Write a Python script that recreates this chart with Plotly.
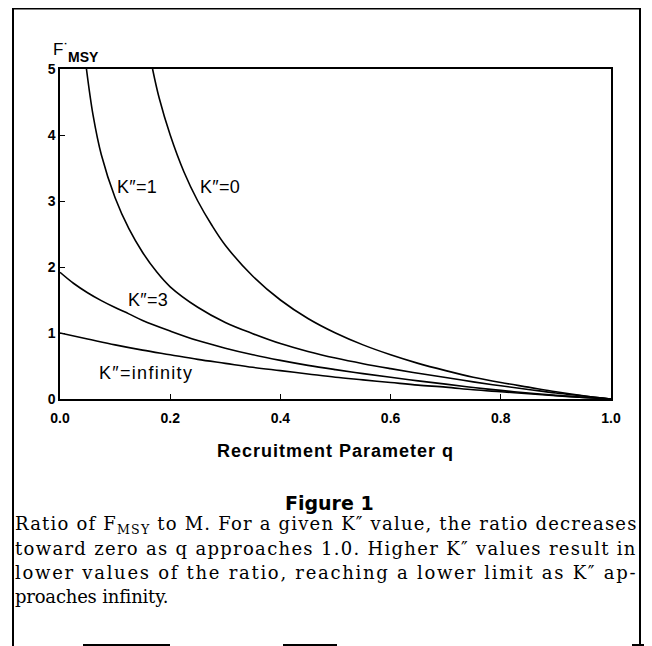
import plotly.graph_objects as go

# ---- data ----
q_k0 = [0.168, 0.18, 0.2, 0.225, 0.25, 0.275, 0.3, 0.35, 0.4, 0.45, 0.5, 0.55, 0.6, 0.65, 0.7, 0.75, 0.8, 0.85, 0.9, 0.95, 1.0]
f_k0 = [5.0, 4.56, 4.0, 3.44, 3.0, 2.64, 2.33, 1.86, 1.5, 1.22, 1.0, 0.82, 0.67, 0.54, 0.43, 0.33, 0.25, 0.18, 0.11, 0.05, 0.0]

q_k1 = [0.048, 0.06, 0.075, 0.1, 0.125, 0.15, 0.175, 0.2, 0.25, 0.3, 0.35, 0.4, 0.45, 0.5, 0.55, 0.6, 0.65, 0.7, 0.75, 0.8, 0.85, 0.9, 0.95, 1.0]
f_k1 = [5.0, 4.3, 3.7, 3.05, 2.58, 2.22, 1.93, 1.70, 1.39, 1.16, 0.99, 0.84, 0.72, 0.62, 0.535, 0.46, 0.39, 0.325, 0.26, 0.20, 0.145, 0.09, 0.045, 0.0]

q_k3 = [0.0, 0.025, 0.05, 0.075, 0.1, 0.125, 0.15, 0.2, 0.25, 0.3, 0.35, 0.4, 0.45, 0.5, 0.55, 0.6, 0.65, 0.7, 0.75, 0.8, 0.85, 0.9, 0.95, 1.0]
f_k3 = [1.92, 1.75, 1.61, 1.49, 1.385, 1.29, 1.19, 1.03, 0.885, 0.77, 0.67, 0.585, 0.51, 0.445, 0.385, 0.33, 0.275, 0.225, 0.175, 0.13, 0.09, 0.055, 0.025, 0.0]

q_kinf = [0.0, 0.05, 0.1, 0.15, 0.2, 0.25, 0.3, 0.35, 0.4, 0.45, 0.5, 0.55, 0.6, 0.65, 0.7, 0.75, 0.8, 0.85, 0.9, 0.95, 1.0]
f_kinf = [1.0, 0.91, 0.82, 0.74, 0.67, 0.60, 0.54, 0.48, 0.43, 0.38, 0.33, 0.29, 0.25, 0.21, 0.18, 0.14, 0.11, 0.08, 0.05, 0.025, 0.0]

x_ticks = [0.0, 0.2, 0.4, 0.6, 0.8, 1.0]
x_ticktext = ["0.0", "0.2", "0.4", "0.6", "0.8", "1.0"]
y_ticks = [0, 1, 2, 3, 4, 5]

curve_labels = ["K\u2033=1", "K\u2033=0", "K\u2033=3", "K\u2033=infinity"]
label_x = [0.140, 0.290, 0.160, 0.156]
label_y = [3.21, 3.21, 1.50, 0.394]
label_spacing = [0.3, 0.3, 0.3, 1.3]

caption_lines = [
    "Ratio of F<sub>MSY</sub> to M. For a given K\u2033 value, the ratio decreases",
    "toward zero as q approaches 1.0. Higher K\u2033 values result in",
    "lower values of the ratio, reaching a lower limit as K\u2033 ap-",
    "proaches infinity.",
]
caption_spacing = [1.2, 1.3, 1.72, -0.2]

# ---- layout geometry (reference pixels) ----
OFF = 8  # page body margin of the browser
W, H = 652, 646
L, R, T, B = 60, 611, 69, 399  # plot area in reference pixels


def px(xp):
    return (xp - L) / (R - L)


def py(yp):
    return (B - yp) / (B - T)


fig = go.Figure()
for qq, ff in [(q_k0, f_k0), (q_k1, f_k1), (q_k3, f_k3), (q_kinf, f_kinf)]:
    fig.add_trace(go.Scatter(x=qq, y=ff, mode="lines",
                             line=dict(color="black", width=1.6, shape="spline", smoothing=1.0),
                             hoverinfo="skip", showlegend=False))

sans = "Liberation Sans, Arial, sans-serif"
ann = []
for t, xx, yy, ls in zip(curve_labels, label_x, label_y, label_spacing):
    ann.append(dict(x=xx, y=yy, xref="x", yref="y",
                    text=f'<span style="letter-spacing:{ls}px">{t}</span>', showarrow=False,
                    font=dict(family=sans, size=18, color="black")))

# y-axis title F'MSY
ann.append(dict(x=px(51), y=py(50), xref="paper", yref="paper", text="F\u02d9", showarrow=False,
                xanchor="left", yanchor="middle", font=dict(family=sans, size=17, color="black")))
ann.append(dict(x=px(66), y=py(57), xref="paper", yref="paper", text="<b>MSY</b>", showarrow=False,
                xanchor="left", yanchor="middle", font=dict(family=sans, size=14, color="black")))

# x-axis title
ann.append(dict(x=px(335), y=py(451), xref="paper", yref="paper",
                text='<span style="letter-spacing:1px"><b>Recruitment Parameter q</b></span>',
                showarrow=False, xanchor="center", yanchor="middle",
                font=dict(family=sans, size=18, color="black")))

# Figure 1
ann.append(dict(x=px(329), y=py(503), xref="paper", yref="paper", text="<b>Figure 1</b>",
                showarrow=False, xanchor="center", yanchor="middle",
                font=dict(family="DejaVu Sans, sans-serif", size=19, color="black")))

cap_y = [525, 548, 572, 596]
for t, yy, ls in zip(caption_lines, cap_y, caption_spacing):
    ann.append(dict(x=px(13), y=py(yy), xref="paper", yref="paper",
                    text=f'<span style="letter-spacing:{ls}px">{t}</span>', showarrow=False,
                    xanchor="left", yanchor="middle",
                    font=dict(family="DejaVu Serif, serif", size=18, color="black")))

shapes = [
    # outer frame
    dict(type="line", xref="paper", yref="paper", x0=px(13), x1=px(640), y0=py(8.6), y1=py(8.6),
         line=dict(color="black", width=2)),
    dict(type="line", xref="paper", yref="paper", x0=px(13), x1=px(13), y0=py(8), y1=py(650),
         line=dict(color="black", width=2)),
    dict(type="line", xref="paper", yref="paper", x0=px(640), x1=px(640), y0=py(8), y1=py(650),
         line=dict(color="black", width=2)),
    # fragments of the next frame at the bottom edge
    dict(type="line", xref="paper", yref="paper", x0=px(83), x1=px(170), y0=py(645), y1=py(645),
         line=dict(color="black", width=2)),
    dict(type="line", xref="paper", yref="paper", x0=px(283), x1=px(337), y0=py(645), y1=py(645),
         line=dict(color="black", width=2)),
    dict(type="line", xref="paper", yref="paper", x0=px(632), x1=px(652), y0=py(645), y1=py(645),
         line=dict(color="black", width=2)),
]

axis_common = dict(showgrid=False, zeroline=False, showline=True, linecolor="black", linewidth=1.5,
                   mirror=True, ticks="inside", ticklen=5, tickwidth=1.2, tickcolor="black",
                   tickfont=dict(family=sans, size=14, color="black", weight="bold"))

fig.update_layout(
    width=W, height=H,
    margin=dict(l=L - OFF, r=W - (R - OFF), t=T - OFF, b=H - (B - OFF), pad=0),
    paper_bgcolor="white", plot_bgcolor="white",
    xaxis=dict(range=[0, 1], tickvals=x_ticks, ticktext=x_ticktext, ticklabelstandoff=5, **axis_common),
    yaxis=dict(range=[0, 5], tickvals=y_ticks, ticklabelstandoff=0, **axis_common),
    annotations=ann, shapes=shapes, showlegend=False,
)

fig.write_html("out.html")
